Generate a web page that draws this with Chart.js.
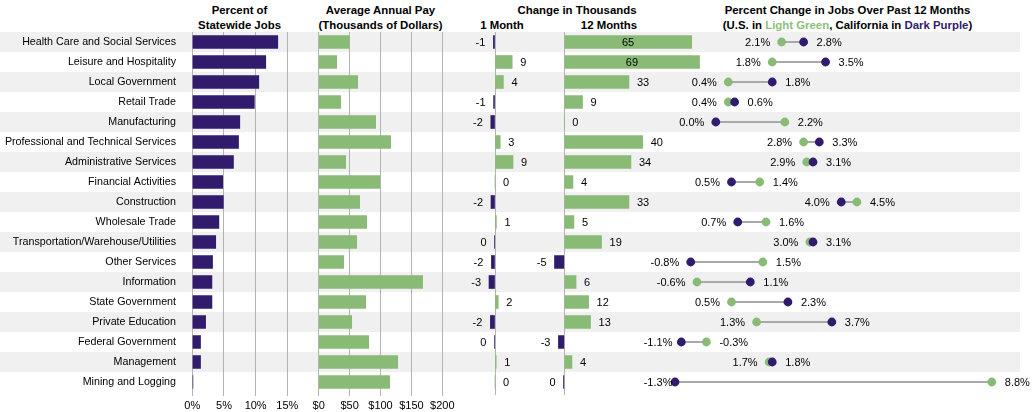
<!DOCTYPE html>
<html>
<head>
<meta charset="utf-8">
<script src="https://cdn.jsdelivr.net/npm/chart.js@4.4.1/dist/chart.umd.min.js"></script>
<style>
  html, body { margin: 0; padding: 0; background: #fff; }
  #wrap { position: relative; width: 1036px; height: 412px; overflow: hidden; font-family: "Liberation Sans", Arial, sans-serif; }
  #wrap canvas { position: absolute; top: 0; }
  .title { position: absolute; top: 3px; transform: translateX(-50%); white-space: nowrap; font-weight: bold; font-size: 11.4px; line-height: 15px; text-align: center; color: #000; }
</style>
</head>
<body>
<div id="wrap">
  <div class="title" style="left:239.5px">Percent of<br>Statewide Jobs</div>
  <div class="title" style="left:380.5px">Average Annual Pay<br>(Thousands of Dollars)</div>
  <div class="title" style="left:577px">Change in Thousands</div>
  <div class="title" style="left:502px; top:18px">1 Month</div>
  <div class="title" style="left:609px; top:18px">12 Months</div>
  <div class="title" style="left:847.5px">Percent Change in Jobs Over Past 12 Months<br>(U.S. in <span style="color:#8cc07a">Light Green</span>, California in <span style="color:#311b6d">Dark Purple</span>)</div>
</div>
<script>
// industries, top to bottom
var categories = [
    'Health Care and Social Services', 'Leisure and Hospitality', 'Local Government',
    'Retail Trade', 'Manufacturing', 'Professional and Technical Services',
    'Administrative Services', 'Financial Activities', 'Construction', 'Wholesale Trade',
    'Transportation/Warehouse/Utilities', 'Other Services', 'Information',
    'State Government', 'Private Education', 'Federal Government', 'Management',
    'Mining and Logging'
];

// percent of statewide jobs
var shareOfJobs = [13.5, 11.6, 10.5, 9.8, 7.5, 7.3, 6.5, 4.8, 4.9, 4.2, 3.7, 3.2, 3.1, 3.1, 2.1, 1.3, 1.3, 0.1];
var shareTicks = [0, 5, 10, 15];

// average annual pay, thousands of dollars
var avgPay = [49.6, 29.1, 63.1, 35.6, 92.2, 116.4, 43.7, 98.7, 66.3, 77.6, 61.5, 40.4, 168.2, 76.0, 53.4, 80.9, 127.8, 114.8];
var payTicks = [0, 50, 100, 150, 200];

// change in thousands of jobs
var change1Month = [-0.8, 8.6, 4.2, -0.7, -2.1, 2.6, 9.0, 0, -2.0, 0.7, -0.2, -1.8, -3.0, 1.6, -2.3, -0.3, 0.6, 0];
var change12Month = [65, 69, 33, 9.3, 0, 40, 34, 4.4, 33, 4.9, 19, -5, 6, 12.4, 13.4, -3, 3.9, -0.4];

// percent change over 12 months
var usChange = [2.1, 1.8, 0.4, 0.4, 2.2, 2.8, 2.9, 1.4, 4.5, 1.6, 3.0, 1.5, -0.6, 0.5, 1.3, -0.3, 1.7, 8.8];
var caChange = [2.8, 3.5, 1.8, 0.6, 0.0, 3.3, 3.1, 0.5, 4.0, 0.7, 3.1, -0.8, 1.1, 2.3, 3.7, -1.1, 1.8, -1.3];

var PURPLE = '#311b6d';
var GREEN = '#89bb77';
var GRID = '#b3b3b3';
var FONT = '"Liberation Sans", Arial, sans-serif';
var H = 412, TOP = 32, AXIS_H = 20;

var wrap = document.getElementById('wrap');

function placeCanvas(areaLeft, areaRight, margin) {
    var left = Math.floor(areaLeft - margin);
    var right = Math.ceil(areaRight + margin);
    var c = document.createElement('canvas');
    c.width = right - left;
    c.height = H;
    c.style.left = left + 'px';
    wrap.appendChild(c);
    return {
        canvas: c,
        padding: { left: areaLeft - left, right: right - areaRight, top: TOP, bottom: 0 }
    };
}

var baseOptions = {
    responsive: false,
    animation: false,
    events: [],
    indexAxis: 'y',
    plugins: { legend: { display: false }, tooltip: { enabled: false } }
};

function hiddenRows() {
    return { type: 'category', labels: categories, display: false, offset: true };
}

// light grey band on every other row, across the whole figure
var rowBands = {
    id: 'rowBands',
    beforeDraw: function(chart) {
        var y = chart.scales.y;
        var h = (y.bottom - y.top) / categories.length;
        var ctx = chart.ctx;
        ctx.save();
        ctx.fillStyle = '#f0f0f0';
        for (let i = 0; i < categories.length; i += 2) {
            ctx.fillRect(0, y.getPixelForValue(i) - h / 2, 1020, h);
        }
        ctx.restore();
    }
};

// base chart: row labels + bands
(function() {
    var c = document.createElement('canvas');
    c.width = 1036; c.height = H;
    c.style.left = '0px';
    wrap.appendChild(c);
    new Chart(c.getContext('2d'), {
        type: 'bar',
        data: { labels: categories, datasets: [{ data: categories.map(() => null) }] },
        options: Object.assign({}, baseOptions, {
            layout: { padding: { top: TOP, bottom: AXIS_H, left: 0, right: 0 } },
            scales: {
                x: { display: false, min: 0, max: 1 },
                y: {
                    type: 'category', offset: true,
                    afterFit: function(s) { s.width = 180; },
                    grid: { display: false, drawTicks: false },
                    border: { display: false },
                    ticks: { color: '#000', padding: 4, font: { family: FONT, size: 10.7 } }
                }
            }
        }),
        plugins: [rowBands]
    });
})();

function valueAxis(ticks, fmt) {
    return {
        type: 'linear',
        min: ticks[0], max: ticks[ticks.length - 1],
        afterBuildTicks: function(s) { s.ticks = ticks.map(v => ({ value: v })); },
        afterFit: function(s) { s.height = AXIS_H; },
        grid: { color: GRID, lineWidth: 1, tickLength: 4 },
        border: { display: false },
        ticks: { color: '#000', padding: 3, font: { family: FONT, size: 11 }, callback: fmt }
    };
}

function barPanel(areaLeft, areaRight, values, color, ticks, fmt) {
    var p = placeCanvas(areaLeft, areaRight, 30);
    new Chart(p.canvas.getContext('2d'), {
        type: 'bar',
        data: { labels: categories, datasets: [{ data: values, backgroundColor: color, barThickness: 13, borderWidth: 0 }] },
        options: Object.assign({}, baseOptions, {
            layout: { padding: p.padding },
            scales: { y: hiddenRows(), x: valueAxis(ticks, fmt) }
        })
    });
}

barPanel(192.3, 287.3, shareOfJobs, PURPLE, shareTicks, v => v + '%');
barPanel(318.7, 442.3, avgPay, GREEN, payTicks, v => '$' + v);

// numbers beside (or inside) the change bars
var changeLabels = {
    id: 'changeLabels',
    afterDatasetsDraw: function(chart, args, opts) {
        var ctx = chart.ctx;
        var x = chart.scales.x;
        var zero = x.getPixelForValue(0);
        var values = chart.data.datasets[0].data;
        ctx.save();
        ctx.font = '11px ' + FONT;
        ctx.fillStyle = '#000';
        ctx.textBaseline = 'middle';
        chart.getDatasetMeta(0).data.forEach(function(bar, i) {
            var v = values[i];
            var txt = String(Math.round(v));
            if (opts.inside != null && v > opts.inside) {
                ctx.textAlign = 'center';
                ctx.fillText(txt, (zero + bar.x) / 2, bar.y + 1);
            } else if (v < 0) {
                ctx.textAlign = 'right';
                ctx.fillText(txt, bar.x - 8, bar.y + 1);
            } else {
                ctx.textAlign = 'left';
                ctx.fillText(txt, bar.x + 8, bar.y + 1);
            }
        });
        ctx.restore();
    }
};

function changePanel(zeroPx, pxPerUnit, min, max, values, inside) {
    var areaLeft = zeroPx + min * pxPerUnit;
    var areaRight = zeroPx + max * pxPerUnit;
    var p = placeCanvas(areaLeft, areaRight, 30);
    new Chart(p.canvas.getContext('2d'), {
        type: 'bar',
        data: { labels: categories, datasets: [{
            data: values,
            backgroundColor: ctx => ctx.raw < 0 ? PURPLE : GREEN,
            barThickness: 13, borderWidth: 0
        }] },
        options: Object.assign({}, baseOptions, {
            layout: { padding: p.padding },
            plugins: Object.assign({}, baseOptions.plugins, { changeLabels: { inside: inside } }),
            scales: {
                y: hiddenRows(),
                x: {
                    type: 'linear', min: min, max: max,
                    afterBuildTicks: function(s) { s.ticks = [{ value: 0 }]; },
                    afterFit: function(s) { s.height = AXIS_H; },
                    grid: { color: GRID, lineWidth: 1, tickLength: 3 },
                    border: { display: false },
                    ticks: { display: false }
                }
            }
        }),
        plugins: [changeLabels]
    });
}

changePanel(495, 2, -15, 15, change1Month, null);
changePanel(564.3, 1.96, -10, 70, change12Month, 50);

// dumbbell: US vs California percent change
var dotLabels = {
    id: 'dotLabels',
    afterDatasetsDraw: function(chart) {
        var ctx = chart.ctx;
        var x = chart.scales.x, y = chart.scales.y;
        ctx.save();
        ctx.font = '11px ' + FONT;
        ctx.fillStyle = '#000';
        ctx.textBaseline = 'middle';
        for (let i = 0; i < categories.length; i++) {
            const lo = Math.min(usChange[i], caChange[i]);
            const hi = Math.max(usChange[i], caChange[i]);
            const loTxt = (usChange[i] <= caChange[i] ? usChange[i] : caChange[i]).toFixed(1) + '%';
            const hiTxt = (usChange[i] <= caChange[i] ? caChange[i] : usChange[i]).toFixed(1) + '%';
            const yy = y.getPixelForValue(i) + 1;
            const w = ctx.measureText(loTxt).width;
            const loX = Math.max(x.getPixelForValue(lo) - 11.5, chart.chartArea.left + w);
            ctx.textAlign = 'right';
            ctx.fillText(loTxt, loX, yy);
            ctx.textAlign = 'left';
            ctx.fillText(hiTxt, x.getPixelForValue(hi) + 13, yy);
        }
        ctx.restore();
    }
};

(function() {
    var zero = 715.8, ppu = 31.36, min = -2.3, max = 9.7;
    var p = placeCanvas(zero + min * ppu, zero + max * ppu, 20);
    p.padding.bottom = AXIS_H;
    new Chart(p.canvas.getContext('2d'), {
        type: 'bar',
        data: {
            labels: categories,
            datasets: [
                { type: 'line', label: 'California', data: caChange, showLine: false, order: 1,
                  pointRadius: 4.4, pointBorderWidth: 0, pointBackgroundColor: PURPLE, borderColor: PURPLE, backgroundColor: PURPLE },
                { type: 'line', label: 'U.S.', data: usChange, showLine: false, order: 2,
                  pointRadius: 4.4, pointBorderWidth: 0, pointBackgroundColor: GREEN, borderColor: GREEN, backgroundColor: GREEN },
                { type: 'bar', label: 'gap', order: 3, data: usChange.map((u, i) => [u, caChange[i]]),
                  backgroundColor: '#a9a9a9', barThickness: 1.4, borderWidth: 0, borderSkipped: false }
            ]
        },
        options: Object.assign({}, baseOptions, {
            layout: { padding: p.padding },
            scales: {
                y: hiddenRows(),
                x: { type: 'linear', display: false, min: min, max: max }
            }
        }),
        plugins: [dotLabels]
    });
})();
</script>
</body>
</html>
